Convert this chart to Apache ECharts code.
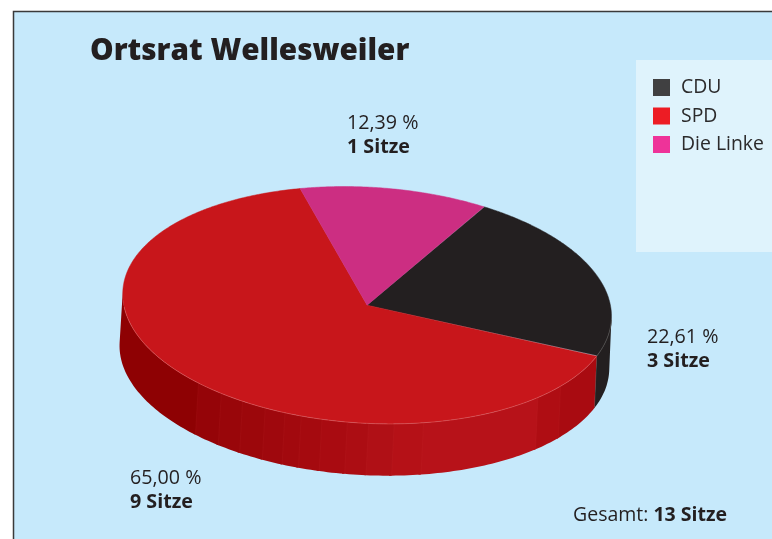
<!DOCTYPE html>
<html><head><meta charset="utf-8">
<style>html,body{margin:0;padding:0;background:#fff}#c{width:772px;height:539px}</style>
<script src="https://cdn.jsdelivr.net/npm/echarts@6/dist/echarts.min.js"></script>
</head><body><div id="c"></div>
<script>
const categories = ['CDU', 'SPD', 'Die Linke'];
const shares = [22.61, 65.00, 12.39];
const seats = [3, 9, 1];

const topColors = ['#231f20', '#c8161b', '#cc2e82'];
const legendColors = ['#404041', '#ed1c24', '#ee3399'];
const labelAnchors = [[647, 325], [130, 466], [347, 111]];

const FONT = '"Open Sans", "Noto Sans", sans-serif';
const INK = '#231f20';
const START = 27.05, TILT = 3.4 * Math.PI / 180;
const SIDE_FROM = 89.8, SIDE_TO = 269.8;
const TOP = {cx: 367.1, cy: 305.2, a: 244.7, b: 118};
const BOT = {cx: 364.4, cy: 357, a: 245.2, b: 118};

// Angle (clockwise from the far point of the disc) -> screen point
function pt(e, deg) {
  const t = deg * Math.PI / 180;
  const u = e.a * Math.sin(t), v = -e.b * Math.cos(t);
  return [e.cx + u * Math.cos(TILT) - v * Math.sin(TILT),
          e.cy + u * Math.sin(TILT) + v * Math.cos(TILT)];
}
const total = shares.reduce((s, v) => s + v, 0);
function sliceRange(i) {
  let s = START;
  for (let k = 0; k < i; k++) s += shares[k] / total * 360;
  return [s, s + shares[i] / total * 360];
}
// Side shading of the red slice: facet start angle and colour
const spdFacets = [
  [108, '#a90b11'], [126, '#af0d13'], [134, '#b71219'], [165, '#b51117'], [172, '#b01016'],
  [178, '#ac0d13'], [183, '#a90b11'], [189, '#a50a0f'], [194, '#a2090e'], [198, '#9f080d'],
  [203, '#9c070b'], [209, '#99060a'], [215, '#950408'], [222, '#8e0103'], [282, '#8e0103']
];
function band(from, to, color) {
  const a = [], b = [];
  for (let d = from; d < to; d += 1) { a.push(pt(TOP, d)); b.push(pt(BOT, d)); }
  a.push(pt(TOP, to)); b.push(pt(BOT, to));
  return {type: 'polygon', shape: {points: a.concat(b.reverse())}, style: {fill: color}};
}
function render(i) {
  return function (params, api) {
    const [s, e] = sliceRange(i);
    const children = [];
    const lo = Math.max(s, SIDE_FROM), hi = Math.min(e, SIDE_TO);
    if (lo < hi) {
      if (i === 1) {
        spdFacets.slice(0, -1).forEach((f, k) => {
          const from = Math.max(f[0], lo), to = Math.min(spdFacets[k + 1][0] + 0.6, hi);
          if (from < to) children.push(band(from, to, f[1]));
        });
        spdFacets.slice(1, -1).forEach(f => {
          const p = pt(TOP, f[0]), q = pt(BOT, f[0]);
          children.push({type: 'line', shape: {x1: p[0], y1: p[1], x2: q[0], y2: q[1]},
            style: {stroke: 'rgba(215,70,70,0.12)', lineWidth: 0.8}});
        });
      } else children.push(band(lo, hi, topColors[i]));
    }
    const edge = [];
    for (let d = s; d <= e + 0.001; d += 0.5) edge.push(pt(TOP, d));
    children.push({type: 'polygon', shape: {points: [[TOP.cx, TOP.cy]].concat(edge)},
      style: {fill: topColors[i], stroke: topColors[i], lineWidth: 0.5}});
    const front = [];
    for (let d = Math.max(s, 90); d <= Math.min(e, 262); d += 1) front.push(pt(TOP, d));
    front.push(pt(TOP, Math.min(e, 262)));
    if (front.length > 1) children.push({type: 'polyline', shape: {points: front},
      style: {fill: 'none', stroke: i === 1 ? 'rgba(235,130,130,0.5)' : '#55524f', lineWidth: 0.8}});
    if (i === 0) {
      children.push({type: 'line', shape: {x1: pt(TOP, e)[0], y1: pt(TOP, e)[1], x2: pt(BOT, e)[0], y2: pt(BOT, e)[1]},
        style: {stroke: '#55524f', lineWidth: 0.8}});
    }
    return {type: 'group', children};
  };
}
const fmt = v => v.toFixed(2).replace('.', ',') + ' %';
const labelRich = {
  p: {fontFamily: FONT, fontSize: 19.7, fill: INK, lineHeight: 24.5},
  s: {fontFamily: FONT, fontSize: 19.7, fontWeight: 'bold', fill: INK, lineHeight: 24.5},
  g: {fontFamily: FONT, fontSize: 19.5, fill: INK},
  h: {fontFamily: FONT, fontSize: 19.5, fontWeight: 'bold', fill: INK}
};
const graphics = [
  {type: 'rect', z: -3, shape: {x: 13.5, y: 11.5, width: 770, height: 540}, style: {fill: '#c6e9fb', stroke: '#3a3a3a', lineWidth: 1.5}},
  {type: 'rect', z: -2, shape: {x: 636, y: 60, width: 136, height: 192}, style: {fill: '#dff3fc'}},
  {type: 'text', z: 5, x: 573, y: 505, style: {text: '{g|Gesamt: }{h|' + seats.reduce((a, b) => a + b, 0) + ' Sitze}', rich: labelRich}}
];
categories.forEach((c, i) => {
  graphics.push({type: 'text', z: 5, x: labelAnchors[i][0], y: labelAnchors[i][1],
    style: {text: '{p|' + fmt(shares[i]) + '}\n{s|' + seats[i] + ' Sitze}', rich: labelRich}});
});
const chart = echarts.init(document.getElementById('c'), null, {renderer: 'canvas'});
chart.setOption({
  animation: false,
  backgroundColor: '#ffffff',
  title: {text: 'Ortsrat Wellesweiler', left: 85, top: 32,
    textStyle: {fontFamily: FONT, fontSize: 29.7, fontWeight: 800, color: INK}},
  legend: {
    orient: 'vertical', left: 653, top: 78, itemWidth: 17, itemHeight: 17, itemGap: 9.5, icon: 'rect',
    selectedMode: false, padding: 0,
    textStyle: {fontFamily: FONT, fontSize: 19.4, lineHeight: 17, color: '#2b2a2b', padding: [0, 0, 0, 6]},
    data: categories.map((c, i) => ({name: c, itemStyle: {color: legendColors[i]}}))
  },
  graphic: graphics,
  series: categories.map((c, i) => ({
    type: 'custom', name: c, silent: true, renderItem: render(i), coordinateSystem: 'none',
    clip: false, z: 2 + i, itemStyle: {color: topColors[i]}, data: [shares[i]]
  }))
});
</script></body></html>
